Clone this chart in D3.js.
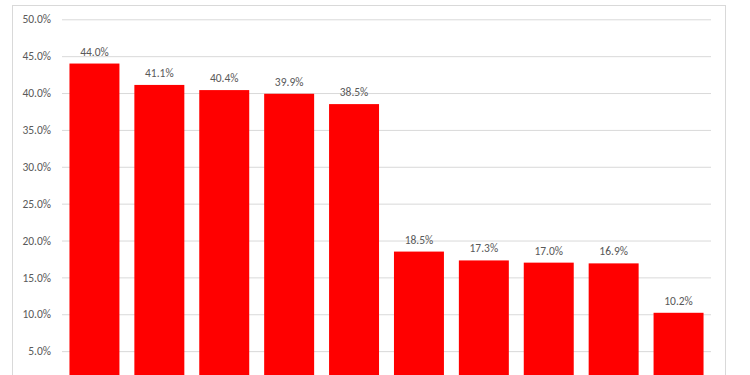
<!DOCTYPE html>
<html>
<head>
<meta charset="utf-8">
<script src="https://cdn.jsdelivr.net/npm/d3@7"></script>
<style>
  html, body { margin: 0; padding: 0; background: #fff; overflow: hidden; }
  svg { display: block; }
</style>
</head>
<body>
<svg id="chart" width="750" height="375"></svg>
<script>
// values (categories are cut off below the frame)
const categories = ["c1", "c2", "c3", "c4", "c5", "c6", "c7", "c8", "c9", "c10"]
const values = [44.0, 41.1, 40.4, 39.9, 38.5, 18.5, 17.3, 17.0, 16.9, 10.2]
const yTicks = [5, 10, 15, 20, 25, 30, 35, 40, 45, 50]

const svg = d3.select('#chart')
const fontFamily = 'Calibri, Carlito, Lato, "Open Sans", sans-serif'

// chart frame (bottom edge lies below the visible area)
svg.append('rect')
    .attr('x', 12.5)
    .attr('y', 5.5)
    .attr('width', 713)
    .attr('height', 420)
    .attr('fill', '#fff')
    .attr('stroke', '#d9d9d9')
    .attr('stroke-width', 1)

const plotLeft = 62, plotRight = 711
const y = d3.scaleLinear().domain([0, 50]).range([388, 19.3])
const x = d3.scaleBand().domain(categories).range([plotLeft, plotRight]).paddingInner(0.23).paddingOuter(0.115)

// gridlines
const grid = d3.axisLeft(y)
    .tickValues(yTicks)
    .tickSize(-(plotRight - plotLeft))
    .tickFormat('')
const gGrid = svg.append('g').attr('transform', `translate(${plotLeft},0)`).call(grid)
gGrid.select('.domain').remove()
gGrid.selectAll('.tick line').attr('stroke', '#d9d9d9').attr('stroke-width', 1)

// y tick labels
const yAxis = d3.axisLeft(y)
    .tickValues(yTicks)
    .tickSize(0)
    .tickPadding(11)
    .tickFormat(d => d.toFixed(1) + '%')
const gY = svg.append('g').attr('transform', `translate(${plotLeft},0)`).call(yAxis)
gY.select('.domain').remove()
gY.selectAll('text')
    .attr('fill', '#595959')
    .style('font-family', fontFamily)
    .style('font-size', '11.5px')

// bars
svg.append('g').selectAll('rect')
    .data(values)
    .join('rect')
    .attr('x', (d, i) => x(categories[i]))
    .attr('y', d => y(d))
    .attr('width', x.bandwidth())
    .attr('height', d => y(0) - y(d))
    .attr('fill', '#ff0000')

// data labels
svg.append('g').selectAll('text')
    .data(values)
    .join('text')
    .attr('x', (d, i) => x(categories[i]) + x.bandwidth() / 2)
    .attr('y', d => y(d) - 8)
    .attr('text-anchor', 'middle')
    .attr('fill', '#595959')
    .style('font-family', fontFamily)
    .style('font-size', '11.5px')
    .text(d => d.toFixed(1) + '%')
</script>
</body>
</html>
